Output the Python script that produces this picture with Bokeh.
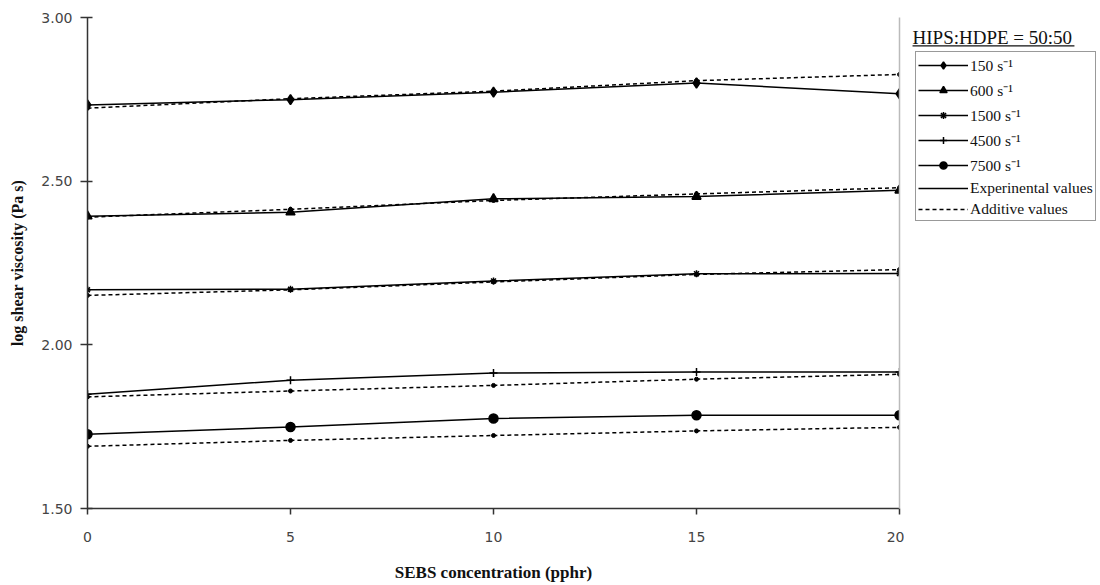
from bokeh.plotting import figure
from bokeh.layouts import row
from bokeh.models import (Range1d, LinearAxis, Legend, LegendItem, FixedTicker,
                          Label, NumeralTickFormatter, BoxAnnotation)
from bokeh.embed import file_html
from bokeh.resources import INLINE

# ---- data ----
sebs = [0, 5, 10, 15, 20]
rates = ["150 s⁻¹", "600 s⁻¹", "1500 s⁻¹", "4500 s⁻¹", "7500 s⁻¹"]
exp_150 = [2.733, 2.749, 2.772, 2.800, 2.767]
exp_600 = [2.393, 2.405, 2.446, 2.453, 2.472]
exp_1500 = [2.168, 2.170, 2.195, 2.217, 2.218]
exp_4500 = [1.849, 1.892, 1.914, 1.917, 1.917]
exp_7500 = [1.727, 1.749, 1.775, 1.785, 1.785]
add_150 = [2.723, 2.752, 2.775, 2.807, 2.826]
add_600 = [2.390, 2.414, 2.441, 2.461, 2.480]
add_1500 = [2.151, 2.168, 2.192, 2.215, 2.230]
add_4500 = [1.841, 1.859, 1.876, 1.895, 1.910]
add_7500 = [1.690, 1.708, 1.723, 1.737, 1.748]
y_ticks = [1.5, 2.0, 2.5, 3.0]
x_ticks = [0, 5, 10, 15, 20]
legend_title = "HIPS:HDPE = 50:50"
exp_label = "Experinental values"
add_label = "Additive values"

exp_series = [exp_150, exp_600, exp_1500, exp_4500, exp_7500]
add_series = [add_150, add_600, add_1500, add_4500, add_7500]
markers = ["diamond", "triangle", "asterisk", "cross", "circle"]
msizes = [10, 9, 7, 8, 9]

serif = "Liberation Serif"
sans = "DejaVu Sans"

# ---- main plot ----
p = figure(width=904, height=585, output_backend="svg", toolbar_location=None,
           x_range=Range1d(0, 20), y_range=Range1d(1.5, 3.0),
           min_border_left=87, min_border_right=5, min_border_top=17,
           min_border_bottom=77)
p.outline_line_color = None
p.grid.visible = False
p.background_fill_color = "white"
p.border_fill_color = "white"

for ax in (p.xaxis[0], p.yaxis[0]):
    ax.axis_line_color = "#333333"
    ax.axis_line_width = 1.5
    ax.major_tick_line_color = "#333333"
    ax.major_tick_line_width = 1.5
    ax.minor_tick_line_color = None
    ax.major_label_text_font = sans
    ax.major_label_text_font_size = "14px"
    ax.major_label_text_color = "#444444"
    ax.axis_label_text_font = serif
    ax.axis_label_text_font_style = "bold"
    ax.axis_label_text_color = "#111111"

p.xaxis.axis_label_text_font_size = "17px"
p.yaxis.axis_label_text_font_size = "16px"
p.xaxis.ticker = FixedTicker(ticks=x_ticks)
p.yaxis.ticker = FixedTicker(ticks=y_ticks)
p.yaxis.formatter = NumeralTickFormatter(format="0.00")
p.xaxis.major_tick_in = 0
p.xaxis.major_tick_out = 6
p.yaxis.major_tick_in = 5
p.yaxis.major_tick_out = 7
p.xaxis.major_label_standoff = 17
p.yaxis.major_label_standoff = 8
p.xaxis.axis_label = "SEBS concentration (pphr)"
p.yaxis.axis_label = "log shear viscosity (Pa s)"
p.xaxis.axis_label_standoff = 18
p.yaxis.axis_label_standoff = 12

right = LinearAxis(axis_line_color="#bbbbbb", axis_line_width=1.5,
                   major_tick_line_color=None, minor_tick_line_color=None,
                   major_label_text_font_size="0px", ticker=FixedTicker(ticks=[]))
p.add_layout(right, "right")

for ev, av, mk, ms in zip(exp_series, add_series, markers, msizes):
    p.line(sebs, av, line_color="black", line_width=1.5, line_dash="4 3")
    p.scatter(sebs, av, marker="circle", size=4, color="black")
    p.line(sebs, ev, line_color="black", line_width=1.5)
    p.scatter(sebs, ev, marker=mk, size=ms, color="black", line_width=1.5)

# ---- legend panel (its frame is aligned with the main frame) ----
# proxy renderers carry the same data; the x range keeps them out of view
q = figure(width=196, height=585, output_backend="svg", toolbar_location=None,
           x_range=Range1d(100, 200), y_range=Range1d(1.5, 3.0),
           x_axis_location=None, y_axis_location=None, min_border=0,
           min_border_top=17, min_border_bottom=77)
q.outline_line_color = None
q.grid.visible = False
q.background_fill_color = "white"
q.border_fill_color = "white"

items = []
first_exp = None
for lab, ev, mk, ms in zip(rates, exp_series, markers, msizes):
    el = q.line(sebs, ev, line_color="black", line_width=1.5)
    sc = q.scatter(sebs, ev, marker=mk, size=ms, color="black", line_width=1.5)
    items.append(LegendItem(label=lab, renderers=[el, sc]))
    if first_exp is None:
        first_exp = el
al = q.line(sebs, add_series[0], line_color="black", line_width=1.5, line_dash="4 3")
items.append(LegendItem(label=exp_label, renderers=[first_exp]))
items.append(LegendItem(label=add_label, renderers=[al]))

legend = Legend(items=items, location=(11, 287),
                label_text_font=serif, label_text_font_size="15.5px",
                label_text_color="#111111",
                glyph_width=50, glyph_height=18, label_height=18,
                spacing=3, padding=2, margin=0, label_standoff=2,
                border_line_color="#333333", border_line_width=1.5,
                background_fill_color="white", background_fill_alpha=1)
q.add_layout(legend, "center")

title = Label(x=104.1, y=2.940, text=legend_title,
              text_font=serif, text_font_size="19px",
              text_color="#111111", text_baseline="alphabetic")
q.add_layout(title)
underline = BoxAnnotation(left=104.1, right=186.7, top=2.9150, bottom=2.9115,
                          fill_color="#111111", fill_alpha=1, line_color=None)
q.add_layout(underline)

layout = row(p, q, spacing=0)
open("out.html", "w").write(file_html(layout, INLINE))
